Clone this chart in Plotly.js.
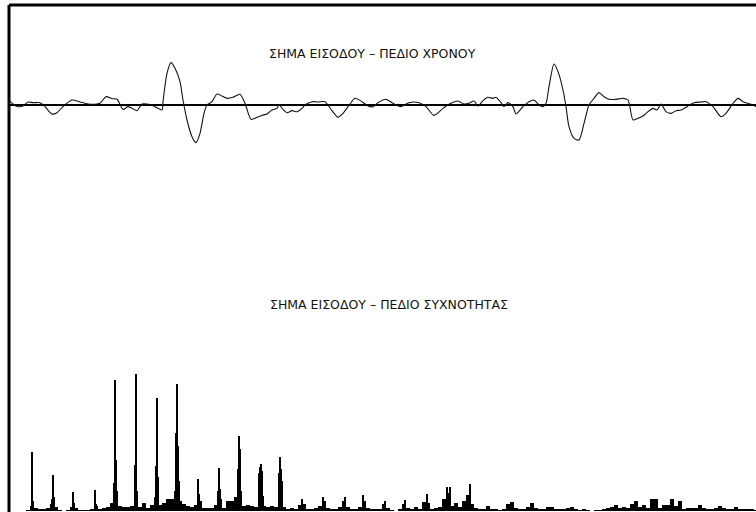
<!DOCTYPE html>
<html>
<head>
<meta charset="utf-8">
<script src="https://cdn.plot.ly/plotly-3.0.1.min.js"></script>
<style>html,body{margin:0;padding:0;background:#fff;}#chart{width:756px;height:512px;}</style>
</head>
<body>
<div id="chart"></div>
<script>
// ---- Time-domain input signal (sample index, amplitude) ----
const timeT = [1,4,9,14,19,24,31,36,43,48,54,63,71,79,86,91,97,103,108,114,119,123,128,133,138,146,153,154,158,162,166,171,174,178,183,187,191,195,198,203,208,213,218,224,231,236,242,248,253,258,263,268,270,274,278,283,288,293,296,303,309,316,323,329,334,341,346,353,359,364,369,
377,384,392,400,410,417,425,434,442,449,455,460,465,469,474,479,484,487,492,495,499,504,507,514,520,525,530,534,537,540,545,549,554,557,560,565,570,575,580,585,590,595,600,607,614,619,624,629,634,639,644,648,652,657,662,667,672,679,685,692,697,704,712,717,724,729,734,739,744,747];
const timeV = [0.12,0.03,-0.05,-0.03,0.09,0.07,0.07,-0.05,-0.27,-0.23,-0.05,0.15,0.09,0.03,0.02,0.05,0.25,0.19,0.17,-0.13,-0.05,-0.10,-0.17,0.03,0.03,-0.05,-0.15,0.10,0.95,1.27,1.10,0.70,0.15,-0.45,-0.95,-1.13,-0.85,-0.25,0,0.10,0.33,0.27,0.20,0.23,0.32,0.05,-0.43,-0.37,-0.31,-0.27,-0.15,-0.10,0.01,-0.13,-0.23,-0.17,-0.20,-0.10,0,0.10,0.09,0.10,-0.17,-0.37,-0.25,0.03,0.20,0.10,-0.03,-0.05,0.07,
0.17,0.05,-0.05,0.07,0.07,-0.05,-0.31,-0.10,0.05,0.12,0.03,0.05,0.12,-0.03,0.13,0.23,0.20,0.23,0.07,-0.05,0.07,-0.05,-0.27,-0.05,0.10,0.15,0,-0.05,0.05,0.55,1.23,1.00,0.45,-0.05,-0.65,-1.00,-1.05,-0.55,0,0.20,0.37,0.25,0.17,0.17,0.20,0.15,-0.45,-0.40,-0.33,-0.20,-0.10,-0.15,0.03,-0.20,-0.25,-0.17,-0.15,-0.03,0.07,0.09,0.10,-0.05,-0.35,-0.25,0.05,0.20,0.10,0.05,0,-0.05];

// ---- Frequency-domain: broadband floor (bins 4 wide) ----
const floorStart = 3, floorStep = 4;
const floorMag = [0,0,0,0,1,5,3,2,2,3,7,4,1,0,1,4,3,1,1,1,
2,5,2,3,4,8,14,5,4,4,5,10,4,8,3,6,14,6,8,12,
12,20,10,7,5,4,6,10,3,3,3,6,12,3,10,10,14,16,5,6,
5,4,14,5,4,5,4,14,4,2,3,2,6,7,2,2,3,5,10,3,
2,2,4,10,4,2,2,4,10,3,2,2,2,7,3,1,0,2,7,3,
2,4,2,9,8,2,3,4,12,18,5,8,4,10,16,7,3,2,2,5,
2,2,1,2,7,9,3,2,2,4,8,3,2,2,4,4,2,2,2,3,
4,2,1,2,1,0,1,1,2,3,4,6,3,4,3,7,10,4,6,3,
12,12,3,6,6,12,5,10,2,3,3,3,6,3,2,2,3,5,3,2,
2,4,2,2,2,2,1];

// ---- Frequency-domain: harmonic lines (bin, magnitude) ----
const peakBin = [23,24, 43,44,45, 64,65, 86,87, 105,106,107,108, 126,127,128, 147,148,149, 167,168,169,170, 189,190, 209,210,211, 229,230,231,232, 250,251,252,253,254, 270,271,272,273, 293,314,336,354,376,396,418,438,441,458,461];
const peakMag = [59,10, 12,36,14, 19,8, 21,7, 28,131,51,20, 46,137,20, 45,113,34, 78,127,65,30, 32,17, 20,43,22, 42,75,62,20, 38,44,47,40,15, 38,54,42,30, 12,14,14,16,10,11,17,24,24,10,27];

const floorX = floorMag.map((_, i) => floorStart + i * floorStep);

const traces = [
  {x: timeT, y: timeV, type: 'scatter', mode: 'lines',
   line: {color: '#111', width: 1.1, shape: 'spline', smoothing: 0.7},
   xaxis: 'x', yaxis: 'y', hoverinfo: 'skip'},
  {x: floorX, y: floorMag, type: 'bar', width: 4,
   marker: {color: '#000', line: {width: 0}},
   xaxis: 'x2', yaxis: 'y2', hoverinfo: 'skip'},
  {x: peakBin, y: peakMag, type: 'bar', width: 1.3,
   marker: {color: '#000', line: {width: 0}},
   xaxis: 'x2', yaxis: 'y2', hoverinfo: 'skip'}
];

const hidden = {showgrid: false, showticklabels: false, ticks: '', showline: false, zeroline: false, fixedrange: true};

const layout = {
  width: 756, height: 512,
  margin: {l: 9, r: 0, t: 5, b: 0, pad: 0},
  paper_bgcolor: '#fff', plot_bgcolor: '#fff',
  showlegend: false, barmode: 'overlay', bargap: 0,
  font: {family: 'DejaVu Sans, sans-serif', color: '#111'},
  xaxis: Object.assign({}, hidden, {domain: [0, 1], range: [0, 747], anchor: 'y'}),
  yaxis: Object.assign({}, hidden, {domain: [0.5, 1], range: [-4.605, 3.0], anchor: 'x',
          zeroline: true, zerolinecolor: '#000', zerolinewidth: 1.2}),
  xaxis2: Object.assign({}, hidden, {domain: [0, 1], range: [0, 747], anchor: 'y2'}),
  yaxis2: Object.assign({}, hidden, {domain: [0, 0.5], range: [-1, 252.5], anchor: 'x2'}),
  shapes: [
    {type: 'line', xref: 'paper', yref: 'paper', x0: 0, x1: 1.01, y0: 1, y1: 1, line: {color: '#000', width: 3}},
    {type: 'line', xref: 'paper', yref: 'paper', x0: 0, x1: 0, y0: -0.01, y1: 1, line: {color: '#000', width: 3}}
  ],
  annotations: [
    {text: 'ΣΗΜΑ ΕΙΣΟΔΟΥ – ΠΕΔΙΟ ΧΡΟΝΟΥ', xref: 'paper', yref: 'paper', x: 0.4866, y: 0.9053,
     xanchor: 'center', yanchor: 'middle', showarrow: false, font: {size: 12.5, color: '#111'}},
    {text: 'ΣΗΜΑ ΕΙΣΟΔΟΥ – ΠΕΔΙΟ ΣΥΧΝΟΤΗΤΑΣ', xref: 'paper', yref: 'paper', x: 0.5087, y: 0.4083,
     xanchor: 'center', yanchor: 'middle', showarrow: false, font: {size: 12.5, color: '#111'}}
  ]
};

Plotly.newPlot('chart', traces, layout, {displayModeBar: false, staticPlot: true});
</script>
</body>
</html>
